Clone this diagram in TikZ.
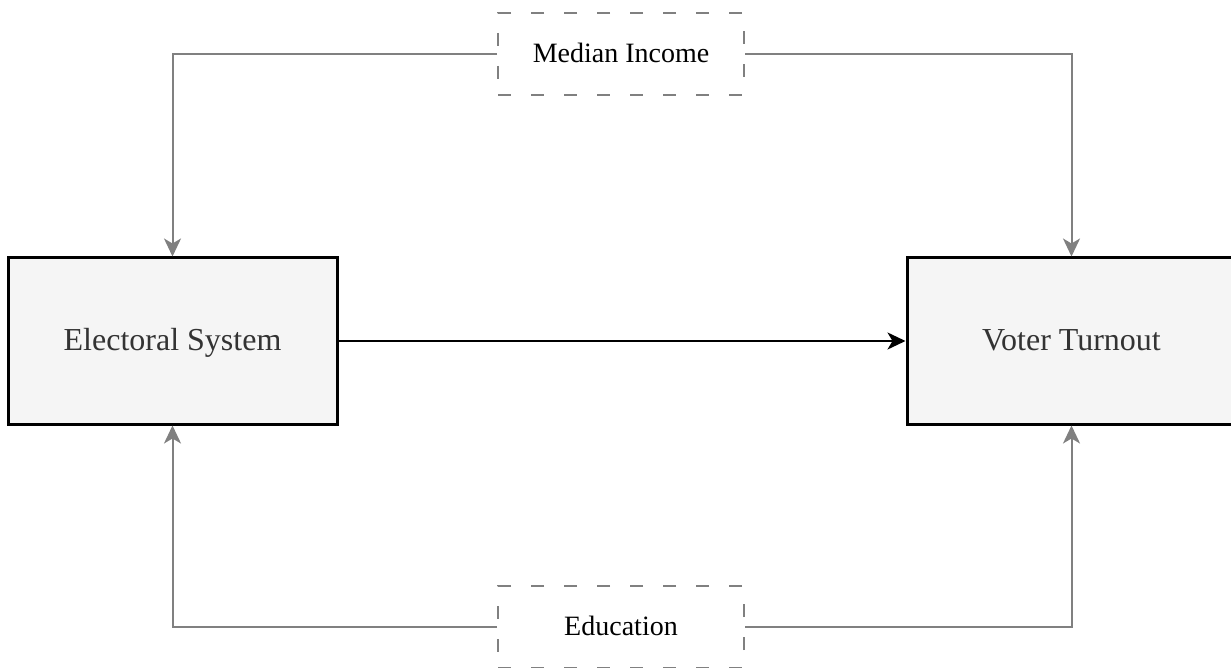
\documentclass[tikz,border=0pt]{standalone}
\usepackage{fontspec}
\setmainfont{Liberation Serif}
\usetikzlibrary{arrows.meta}
\definecolor{boxfill}{HTML}{F5F5F5}
\definecolor{textgray}{HTML}{333333}
\definecolor{linkgray}{HTML}{808080}

\begin{document}
\begin{tikzpicture}[x=0.5pt, y=-0.5pt,
    var/.style={draw=black, line width=1.5pt, fill=boxfill, text=textgray,
      font=\fontsize{16}{19}\selectfont, text height=1em, text depth=0.05em,
      minimum width=164.5pt, minimum height=83pt, inner sep=0pt},
    conf/.style={draw=linkgray, line width=1pt, dash pattern=on 6.5pt off 10pt, fill=white,
      font=\fontsize{14}{17}\selectfont, text height=0.95em, text depth=0.06em,
      minimum width=123pt, minimum height=41pt, inner sep=0pt},
    link/.style={-{Stealth[length=9pt, width=8.5pt, inset=2.5pt]}, line width=1pt, draw=linkgray},
    cause/.style={-{Stealth[length=9pt, width=8.5pt, inset=2.5pt]}, line width=1pt, draw=black}
  ]
  \useasboundingbox (0,0) rectangle (1231,668);
  \node[var]  (es) at (172.5,341)  {Electoral System};
  \node[var]  (vt) at (1071.5,341) {Voter Turnout};
  \node[conf] (mi) at (621,54)     {Median Income};
  \node[conf] (ed) at (621,627)    {Education};
  \draw[cause] (es) -- (vt);
  \draw[link] (mi.west) -| (es.north);
  \draw[link] (mi.east) -| (vt.north);
  \draw[link] (ed.west) -| (es.south);
  \draw[link] (ed.east) -| (vt.south);
\end{tikzpicture}
\end{document}
